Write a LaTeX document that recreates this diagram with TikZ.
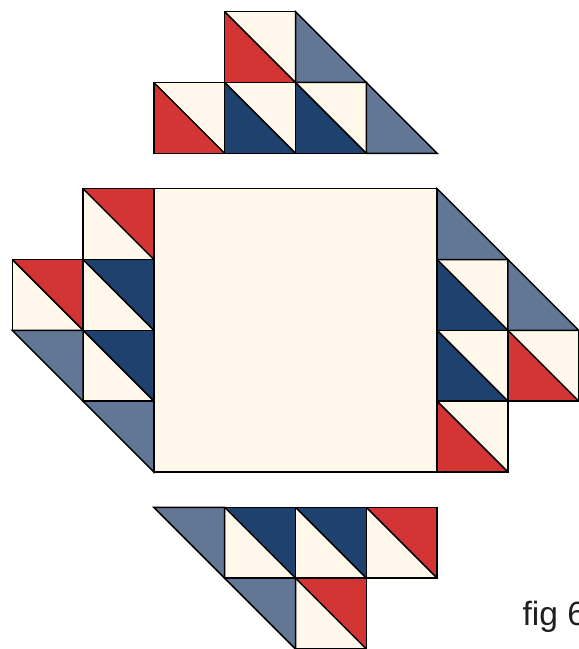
\documentclass[tikz,border=0pt]{standalone}
\usepackage{fontspec}
\newfontfamily\labelfont{Liberation Sans}
\usepackage{xcolor}
\usepackage{tikz}

\definecolor{quiltred}{HTML}{D33434}
\definecolor{quiltnavy}{HTML}{1E416D}
\definecolor{quiltgray}{HTML}{627795}
\definecolor{quiltcream}{HTML}{FFF8EB}

% half-square unit, coloured half below the diagonal
\newcommand{\hsqLow}[3]{%
  \fill[quiltcream] (#1,#2) rectangle ++(1,1);
  \fill[#3] (#1,#2+1) -- (#1,#2) -- (#1+1,#2) -- cycle;
  \draw[seam] (#1,#2) rectangle ++(1,1);
  \draw[seam] (#1,#2+1) -- (#1+1,#2);
}
% half-square unit, coloured half above the diagonal
\newcommand{\hsqUp}[3]{%
  \fill[quiltcream] (#1,#2) rectangle ++(1,1);
  \fill[#3] (#1,#2+1) -- (#1+1,#2+1) -- (#1+1,#2) -- cycle;
  \draw[seam] (#1,#2) rectangle ++(1,1);
  \draw[seam] (#1,#2+1) -- (#1+1,#2);
}

\begin{document}
\begin{tikzpicture}[
  seam/.style={draw=black, line width=0.6pt, line join=miter},
  edgetri/.style={seam, fill=quiltgray},
]
  \useasboundingbox (-0.173,0) rectangle (7.993,9.165);

  % centre block
  \draw[seam, fill=quiltcream] (2,2.5) rectangle (6,6.5);

  % top
  \hsqLow{3}{8}{quiltred}
  \hsqLow{2}{7}{quiltred}
  \foreach \x in {3,4} {\hsqLow{\x}{7}{quiltnavy}}
  \foreach \x/\y in {4/8, 5/7}
    \draw[edgetri] (\x,\y+1) -- (\x,\y) -- (\x+1,\y) -- cycle;

  % left
  \hsqUp{1}{5.5}{quiltred}
  \hsqUp{0}{4.5}{quiltred}
  \foreach \y in {4.5,3.5} {\hsqUp{1}{\y}{quiltnavy}}
  \foreach \x/\y in {0/3.5, 1/2.5}
    \draw[edgetri] (\x,\y+1) -- (\x+1,\y+1) -- (\x+1,\y) -- cycle;

  % right
  \foreach \y in {4.5,3.5} {\hsqLow{6}{\y}{quiltnavy}}
  \hsqLow{6}{2.5}{quiltred}
  \hsqLow{7}{3.5}{quiltred}
  \foreach \x/\y in {6/5.5, 7/4.5}
    \draw[edgetri] (\x,\y+1) -- (\x,\y) -- (\x+1,\y) -- cycle;

  % bottom
  \foreach \x in {3,4} {\hsqUp{\x}{1}{quiltnavy}}
  \hsqUp{5}{1}{quiltred}
  \hsqUp{4}{0}{quiltred}
  \foreach \x/\y in {2/1, 3/0}
    \draw[edgetri] (\x,\y+1) -- (\x+1,\y+1) -- (\x+1,\y) -- cycle;

  \node[anchor=base west, inner sep=0pt, text=black!88,
        font=\labelfont\fontsize{13.5}{15}\selectfont] (caption) at (7.2,0.33) {fig 6};
\end{tikzpicture}
\end{document}
